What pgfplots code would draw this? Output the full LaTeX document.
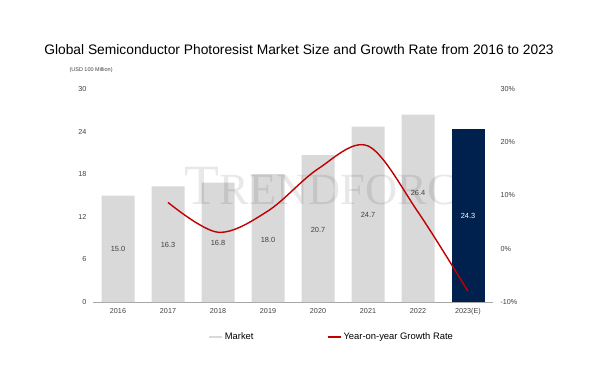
\documentclass[border=0pt]{standalone}
\usepackage{pgfplots}
\pgfplotsset{compat=1.18}
\usepackage{fontspec}
\setmainfont{Liberation Sans}
\newfontfamily\wmfont{Liberation Serif}
\definecolor{bargray}{HTML}{D9D9D9}
\definecolor{navy}{HTML}{00204E}
\definecolor{linered}{HTML}{C00000}
\definecolor{txtgray}{HTML}{404040}
\begin{document}
\begin{tikzpicture}[x=1pt,y=1pt]
\path[use as bounding box] (0,0) rectangle (605,375);
\node[font=\fontsize{13.8}{16}\selectfont, text=black] at (299,325) {Global Semiconductor Photoresist Market Size and Growth Rate from 2016 to 2023};
\node[font=\fontsize{5.5}{7}\selectfont, text=txtgray, anchor=west] at (66,305) {(USD 100 Million)};
\begin{axis}[
  at={(93pt,73pt)}, anchor=south west,
  scale only axis, width=400pt, height=213pt,
  xmin=-0.5, xmax=7.5, ymin=0, ymax=30,
  ytick={0,6,12,18,24,30},
  xtick={0,...,7},
  xticklabels={2016,2017,2018,2019,2020,2021,2022,2023(E)},
  axis x line=bottom, axis y line=left,
  x axis line style={-, draw=gray!70},
  y axis line style={draw=none},
  major tick length=0pt,
  tick label style={font=\fontsize{7.2}{8}\selectfont, text=txtgray},
  /pgf/number format/assume math mode=true,
  xticklabel style={yshift=-2.5pt},
  yticklabel style={xshift=-3pt},
  clip=false,
]
\addplot[ybar, bar width=33pt, bar shift=0pt, fill=bargray, draw=none] coordinates {(0,15.0)(1,16.3)(2,16.8)(3,18.0)(4,20.7)(5,24.7)(6,26.4)};
\addplot[draw=none, mark=none, nodes near coords, point meta=explicit symbolic,
  nodes near coords align=center,
  every node near coord/.append style={font=\fontsize{7.4}{8}\selectfont, text=txtgray}]
  table[meta=lab] {
x y lab
0 7.5 15.0
1 8.0 16.3
2 8.3 16.8
3 8.8 18.0
4 10.2 20.7
5 12.25 24.7
6 15.3 26.4
};
\end{axis}
\node[font=\wmfont, text=black, opacity=0.09, anchor=west] at (181,189) {{\fontsize{57}{57}\selectfont T}{\fontsize{44.5}{44.5}\selectfont RENDFORCE}};
\begin{axis}[
  at={(93pt,73pt)}, anchor=south west,
  scale only axis, width=400pt, height=213pt,
  xmin=-0.5, xmax=7.5, ymin=0, ymax=30,
  hide axis, clip=false,
]
\addplot[ybar, bar width=33pt, bar shift=0pt, fill=navy, draw=none] coordinates {(7,24.3)};
\addplot[draw=none, mark=none, nodes near coords, point meta=explicit symbolic,
  nodes near coords align=center,
  every node near coord/.append style={font=\fontsize{7.4}{8}\selectfont, text=white}]
  table[meta=lab] {
x y lab
7 12.1 24.3
};
\end{axis}
\begin{axis}[
  at={(93pt,73pt)}, anchor=south west,
  scale only axis, width=400pt, height=213pt,
  xmin=-0.5, xmax=7.5, ymin=-10, ymax=30,
  ytick={-10,0,10,20,30},
  yticklabels={-10\%,0\%,10\%,20\%,30\%},
  axis y line=right, hide x axis,
  y axis line style={draw=none},
  major tick length=0pt,
  tick label style={font=\fontsize{7.2}{8}\selectfont, text=txtgray},
  yticklabel style={anchor=west, xshift=4pt},
  legend style={at={(0.596,-0.125)}, anchor=north, draw=none, fill=none,
    font=\fontsize{9.4}{11}\selectfont, legend columns=2,
    /tikz/every even column/.append style={column sep=71pt}},
  legend image code/.code={\draw[#1, line width=2pt] (0pt,0pt) -- (13pt,0pt);},
]
\addlegendimage{bargray}
\addlegendentry{Market}
\addplot[linered, line width=1.4pt, smooth, tension=0.55] coordinates {(1,8.7)(2,3.1)(3,7.1)(4,15.0)(5,19.3)(6,6.9)(7,-8.0)};
\addlegendentry{Year-on-year Growth Rate}
\end{axis}
\end{tikzpicture}
\end{document}
